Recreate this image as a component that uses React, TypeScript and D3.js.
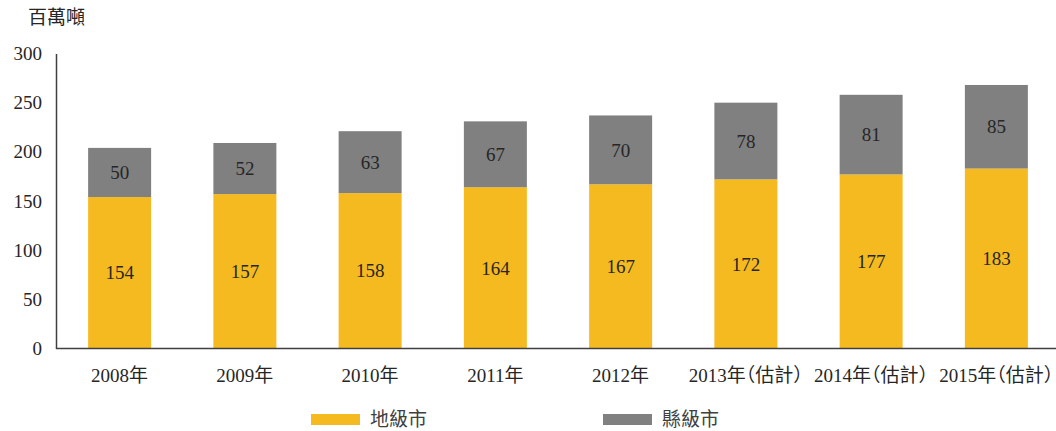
import React from "react";
import * as d3 from "d3";

const categories = ["2008年", "2009年", "2010年", "2011年", "2012年", "2013年（估計）", "2014年（估計）", "2015年（估計）"];
const prefectureCity = [154, 157, 158, 164, 167, 172, 177, 183];
const countyCity = [50, 52, 63, 67, 70, 78, 81, 85];
const yTicks = [0, 50, 100, 150, 200, 250, 300];
const seriesNames = ["地級市", "縣級市"];
const unitLabel = "百萬噸";

const W = 1056;
const H = 431;
const FONT = "'Liberation Serif', 'Times New Roman', 'Noto Sans CJK TC', serif";
const YELLOW = "#F5BA20";
const GREY = "#808080";
const TEXT = "#262626";

export default function App() {
  const x = d3.scaleBand<string>().domain(categories).range([57, 1059]).paddingInner(0.497).paddingOuter(0.2485);
  const y = d3.scaleLinear().domain([0, 300]).range([348.5, 53.5]);
  const bw = x.bandwidth();

  return (
    <svg width={W} height={H} style={{ position: "absolute", left: 0, top: 0, fontFamily: FONT, fontFeatureSettings: "'halt'" }}>
      <text x={28} y={24} fontSize={19} fill={TEXT}>{unitLabel}</text>
      {yTicks.map((t) => (
        <text key={t} x={42} y={y(t)} dy="0.35em" textAnchor="end" fontSize={19} fill={TEXT}>{t}</text>
      ))}
      {categories.map((c, i) => {
        const x0 = x(c)!;
        const a = prefectureCity[i];
        const b = countyCity[i];
        return (
          <g key={c}>
            <rect x={x0} y={y(a)} width={bw} height={y(0) - y(a)} fill={YELLOW} />
            <rect x={x0} y={y(a + b)} width={bw} height={y(a) - y(a + b)} fill={GREY} />
            <text x={x0 + bw / 2} y={(y(0) + y(a)) / 2} dy="0.35em" textAnchor="middle" fontSize={19} fill={TEXT}>{a}</text>
            <text x={x0 + bw / 2} y={(y(a) + y(a + b)) / 2} dy="0.35em" textAnchor="middle" fontSize={19} fill={TEXT}>{b}</text>
            <text x={x0 + bw / 2} y={375} dy="0.35em" textAnchor="middle" fontSize={19} fill={TEXT}>{c}</text>
          </g>
        );
      })}
      <line x1={56.5} x2={56.5} y1={54} y2={349} stroke="#404040" strokeWidth={1.5} />
      <line x1={56} x2={W} y1={348.5} y2={348.5} stroke="#404040" strokeWidth={1.5} />
      <rect x={311} y={414} width={49} height={11} fill={YELLOW} />
      <text x={370} y={419.5} dy="0.35em" fontSize={19} fill="#404040">{seriesNames[0]}</text>
      <rect x={603} y={414} width={49} height={11} fill={GREY} />
      <text x={662} y={419.5} dy="0.35em" fontSize={19} fill="#404040">{seriesNames[1]}</text>
    </svg>
  );
}
